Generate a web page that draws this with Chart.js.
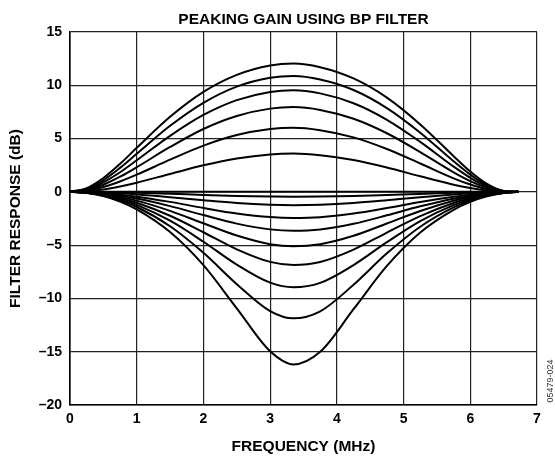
<!DOCTYPE html>
<html>
<head>
<meta charset="utf-8">
<script src="https://cdn.jsdelivr.net/npm/chart.js@4.4.1/dist/chart.umd.min.js"></script>
<style>
  html, body { margin: 0; padding: 0; background: #fff; }
  #wrap { width: 555px; height: 459px; }
</style>
</head>
<body>
<div id="wrap"><canvas id="chart" width="555" height="459"></canvas></div>
<script>
// Peaking gain using BP filter (dB vs MHz)
const chartTitle = 'PEAKING GAIN USING BP FILTER';
const xTitle = 'FREQUENCY (MHz)';
const yTitle = 'FILTER RESPONSE (dB)';
const figureId = '05479-024';

const freqs = [0, 0.25, 0.5, 0.75, 1, 1.5, 2, 2.5, 3, 3.35, 3.75, 4.25, 4.75, 5.25, 5.75, 6, 6.25, 6.5, 6.72];
const xTicks = [0, 1, 2, 3, 4, 5, 6, 7];
const yTicks = [-20, -15, -10, -5, 0, 5, 10, 15];

// boost curves
const gainUp12 = [0, 0.35, 1.30, 2.63, 4.13, 7.04, 9.38, 10.98, 11.86, 12.04, 11.70, 10.64, 8.84, 6.33, 3.35, 1.91, 0.74, 0.08, 0];
const gainUp11 = [0, 0.29, 1.09, 2.25, 3.57, 6.20, 8.36, 9.88, 10.71, 10.88, 10.55, 9.56, 7.86, 5.55, 2.87, 1.62, 0.62, 0.07, 0];
const gainUp95 = [0, 0.23, 0.89, 1.84, 2.96, 5.26, 7.22, 8.61, 9.38, 9.54, 9.24, 8.31, 6.76, 4.69, 2.37, 1.32, 0.50, 0.05, 0];
const gainUp8 = [0, 0.18, 0.67, 1.42, 2.31, 4.21, 5.90, 7.12, 7.81, 7.96, 7.69, 6.86, 5.50, 3.73, 1.83, 1.01, 0.38, 0.04, 0];
const gainUp6 = [0, 0.12, 0.45, 0.97, 1.61, 3.02, 4.34, 5.33, 5.90, 6.02, 5.79, 5.11, 4.02, 2.66, 1.27, 0.69, 0.25, 0.03, 0];
const gainUp36 = [0, 0.06, 0.23, 0.51, 0.86, 1.68, 2.49, 3.13, 3.51, 3.59, 3.44, 2.99, 2.29, 1.46, 0.67, 0.36, 0.13, 0.01, 0];

// flat
const gainFlat = [0, 0, 0, 0, 0, 0, 0, 0, 0, 0, 0, 0, 0, 0, 0, 0, 0, 0, 0];

// cut curves
const gainDn05 = [0, -0.01, -0.02, -0.05, -0.09, -0.18, -0.29, -0.38, -0.43, -0.45, -0.43, -0.38, -0.29, -0.19, -0.09, -0.05, -0.03, -0.01, 0];
const gainDn12 = [0, -0.02, -0.06, -0.14, -0.24, -0.50, -0.79, -1.05, -1.21, -1.25, -1.21, -1.05, -0.79, -0.50, -0.25, -0.14, -0.07, -0.02, 0];
const gainDn24 = [0, -0.03, -0.12, -0.26, -0.45, -0.94, -1.51, -2.03, -2.37, -2.45, -2.38, -2.04, -1.52, -0.95, -0.46, -0.26, -0.12, -0.03, 0];
const gainDn36 = [0, -0.04, -0.16, -0.36, -0.63, -1.34, -2.18, -2.98, -3.52, -3.65, -3.53, -3.00, -2.20, -1.35, -0.64, -0.37, -0.17, -0.05, 0];
const gainDn51 = [0, -0.05, -0.21, -0.47, -0.82, -1.78, -2.95, -4.10, -4.91, -5.10, -4.91, -4.12, -2.97, -1.80, -0.84, -0.48, -0.22, -0.06, 0];
const gainDn68 = [0, -0.07, -0.26, -0.58, -1.02, -2.24, -3.79, -5.39, -6.57, -6.86, -6.58, -5.42, -3.82, -2.27, -1.04, -0.60, -0.27, -0.07, 0];
const gainDn89 = [0, -0.08, -0.31, -0.69, -1.22, -2.71, -4.68, -6.83, -8.52, -8.95, -8.54, -6.87, -4.72, -2.74, -1.24, -0.71, -0.32, -0.08, 0];
const gainDn118 = [0, -0.09, -0.36, -0.80, -1.42, -3.23, -5.72, -8.66, -11.19, -11.87, -11.21, -8.72, -5.77, -3.27, -1.46, -0.82, -0.37, -0.10, 0];
const gainDn162 = [0, -0.10, -0.40, -0.91, -1.64, -3.77, -6.88, -10.93, -14.96, -16.19, -15.01, -11.01, -6.95, -3.81, -1.68, -0.94, -0.42, -0.11, 0];

const curves = [
    gainUp12, gainUp11, gainUp95, gainUp8, gainUp6, gainUp36,
    gainFlat,
    gainDn05, gainDn12, gainDn24, gainDn36, gainDn51, gainDn68, gainDn89, gainDn118, gainDn162
];

const FONT = '"Liberation Sans", Arial, Helvetica, sans-serif';
const TITLE_SIZE = 15.5;
const TICK_SIZE = 14;

const captionPlugin = {
    id: 'caption',
    afterDraw(chart) {
        const { ctx, chartArea } = chart;
        ctx.save();
        ctx.fillStyle = '#000';
        ctx.font = `bold ${TITLE_SIZE}px ${FONT}`;
        ctx.textAlign = 'center';
        ctx.textBaseline = 'middle';
        ctx.fillText(chartTitle, (chartArea.left + chartArea.right) / 2, 20);
        // figure number, vertical at right edge
        ctx.translate(551, 381);
        ctx.rotate(-Math.PI / 2);
        ctx.font = `9px ${FONT}`;
        ctx.fillStyle = '#333';
        ctx.fillText(figureId, 0, 0);
        ctx.restore();
    }
};

const ctx = document.getElementById('chart');
new Chart(ctx, {
    type: 'line',
    data: {
        datasets: curves.map(vals => ({
            data: vals.map((v, i) => ({ x: freqs[i], y: v })),
            borderColor: '#000',
            borderWidth: 2,
            pointRadius: 0,
            fill: false,
            cubicInterpolationMode: 'monotone'
        }))
    },
    options: {
        responsive: false,
        animation: false,
        devicePixelRatio: 1,
        layout: { padding: { top: 32, right: 18, left: 0, bottom: 0 } },
        plugins: {
            legend: { display: false },
            tooltip: { enabled: false },
            title: { display: false }
        },
        scales: {
            x: {
                type: 'linear',
                min: 0,
                max: 7,
                afterBuildTicks: s => { s.ticks = xTicks.map(v => ({ value: v })); },
                afterFit: s => { s.height = 54; },
                ticks: { color: '#000', padding: 6, font: { family: FONT, size: TICK_SIZE, weight: 'bold' } },
                grid: { color: '#222', lineWidth: 1.2, drawTicks: false },
                border: { color: '#000', width: 1.6 },
                title: {
                    display: true, text: xTitle, color: '#000',
                    font: { family: FONT, size: TITLE_SIZE, weight: 'bold' },
                    padding: { top: 4, bottom: 3 }
                }
            },
            y: {
                min: -20,
                max: 15,
                afterBuildTicks: s => { s.ticks = yTicks.map(v => ({ value: v })); },
                afterFit: s => { s.width = 70; },
                ticks: {
                    color: '#000', padding: 8,
                    font: { family: FONT, size: TICK_SIZE, weight: 'bold' },
                    callback: v => v < 0 ? '\u2013' + Math.abs(v) : String(v)
                },
                grid: { color: '#222', lineWidth: 1.2, drawTicks: false },
                border: { color: '#000', width: 1.6 },
                title: {
                    display: true, text: yTitle, color: '#000',
                    font: { family: FONT, size: TITLE_SIZE, weight: 'bold' },
                    padding: { top: 6, bottom: 0 }
                }
            }
        }
    },
    plugins: [captionPlugin]
});
</script>
</body>
</html>
